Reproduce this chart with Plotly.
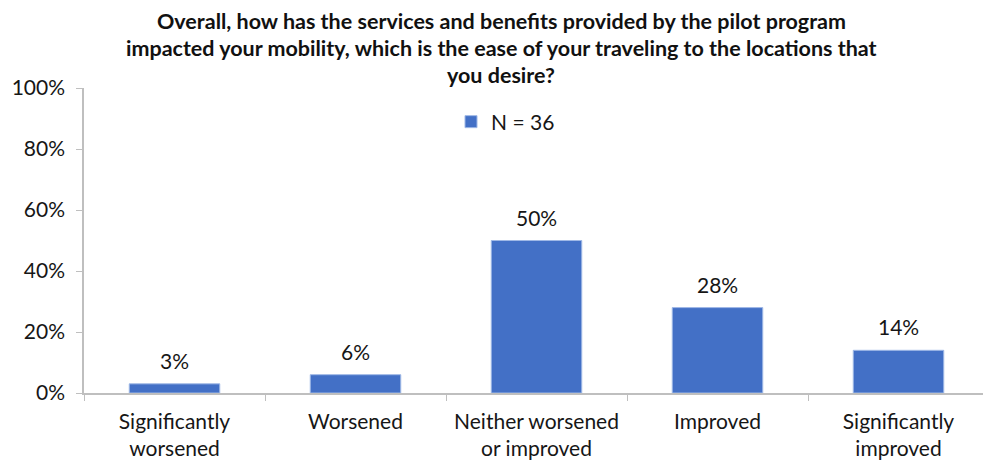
import plotly.graph_objects as go

categories = ["Significantly<br>worsened", "Worsened", "Neither worsened<br>or improved",
              "Improved", "Significantly<br>improved"]
values = [3, 6, 50, 28, 14]
series_name = "N = 36"
title_lines = [
    "Overall, how has the services and benefits provided by the pilot program",
    "impacted your mobility, which is the ease of your traveling to the locations that",
    "you desire?",
]
y_ticks = [0, 20, 40, 60, 80, 100]
y_tick_labels = ["0%", "20%", "40%", "60%", "80%", "100%"]

FONT = "Lato"
OFF = 8  # page body margin in the rendered html
W, H = 991, 462
# target plot area in page pixels
PX_L, PX_R, PX_T, PX_B = 84, 989, 88, 393
M_L = PX_L - OFF
M_R = W - (PX_R - OFF)
M_T = PX_T - OFF
M_B = H - (PX_B - OFF)
PLOT_W = W - M_L - M_R
PLOT_H = H - M_T - M_B


def px_x(px):
    return (px - OFF - M_L) / PLOT_W


def px_y(py):
    return (PX_B - py) / PLOT_H


TXT = "#161616"

fig = go.Figure()
fig.add_trace(go.Bar(
    x=categories, y=values, name=series_name,
    width=0.5,
    marker=dict(color="#4370C6", line=dict(color="#9FB8E6", width=1)),
    showlegend=True,
))

annotations = []
for c, v in zip(categories, values):
    annotations.append(dict(x=c, y=v, xref="x", yref="y", text=f"{v}%",
                            showarrow=False, yanchor="bottom", yshift=9,
                            font=dict(family=FONT, size=21, color=TXT)))

title_y_px = [21, 48, 75]
for line, py in zip(title_lines, title_y_px):
    annotations.append(dict(x=px_x(501), y=px_y(py),
                            xref="paper", yref="paper", xanchor="center", yanchor="middle",
                            showarrow=False, text=f"<b>{line}</b>",
                            font=dict(family=FONT, size=21.5, color="#111111")))

fig.update_layout(
    width=W, height=H,
    margin=dict(l=M_L, r=M_R, t=M_T, b=M_B, autoexpand=False),
    paper_bgcolor="white", plot_bgcolor="white",
    font=dict(family=FONT, size=21, color=TXT),
    bargap=0.5,
    annotations=annotations,
    legend=dict(orientation="h", x=px_x(451), xanchor="left",
                y=px_y(122), yanchor="middle",
                font=dict(family=FONT, size=21, color=TXT),
                bgcolor="rgba(0,0,0,0)", itemwidth=30),
    xaxis=dict(showline=True, linecolor="#BFBFBF", linewidth=1.5,
               ticks="outside", tickson="boundaries", ticklen=6, tickcolor="#BFBFBF",
               showgrid=False, ticklabelstandoff=9, automargin=False,
               tickfont=dict(family=FONT, size=21, color=TXT)),
    yaxis=dict(range=[0, 100], tickvals=y_ticks, ticktext=y_tick_labels,
               showline=True, linecolor="#BFBFBF", linewidth=1.5,
               ticks="outside", ticklen=6, tickcolor="#BFBFBF",
               showgrid=False, zeroline=False, ticklabelstandoff=7, automargin=False,
               tickfont=dict(family=FONT, size=21, color=TXT)),
)

fig.write_html("out.html")
